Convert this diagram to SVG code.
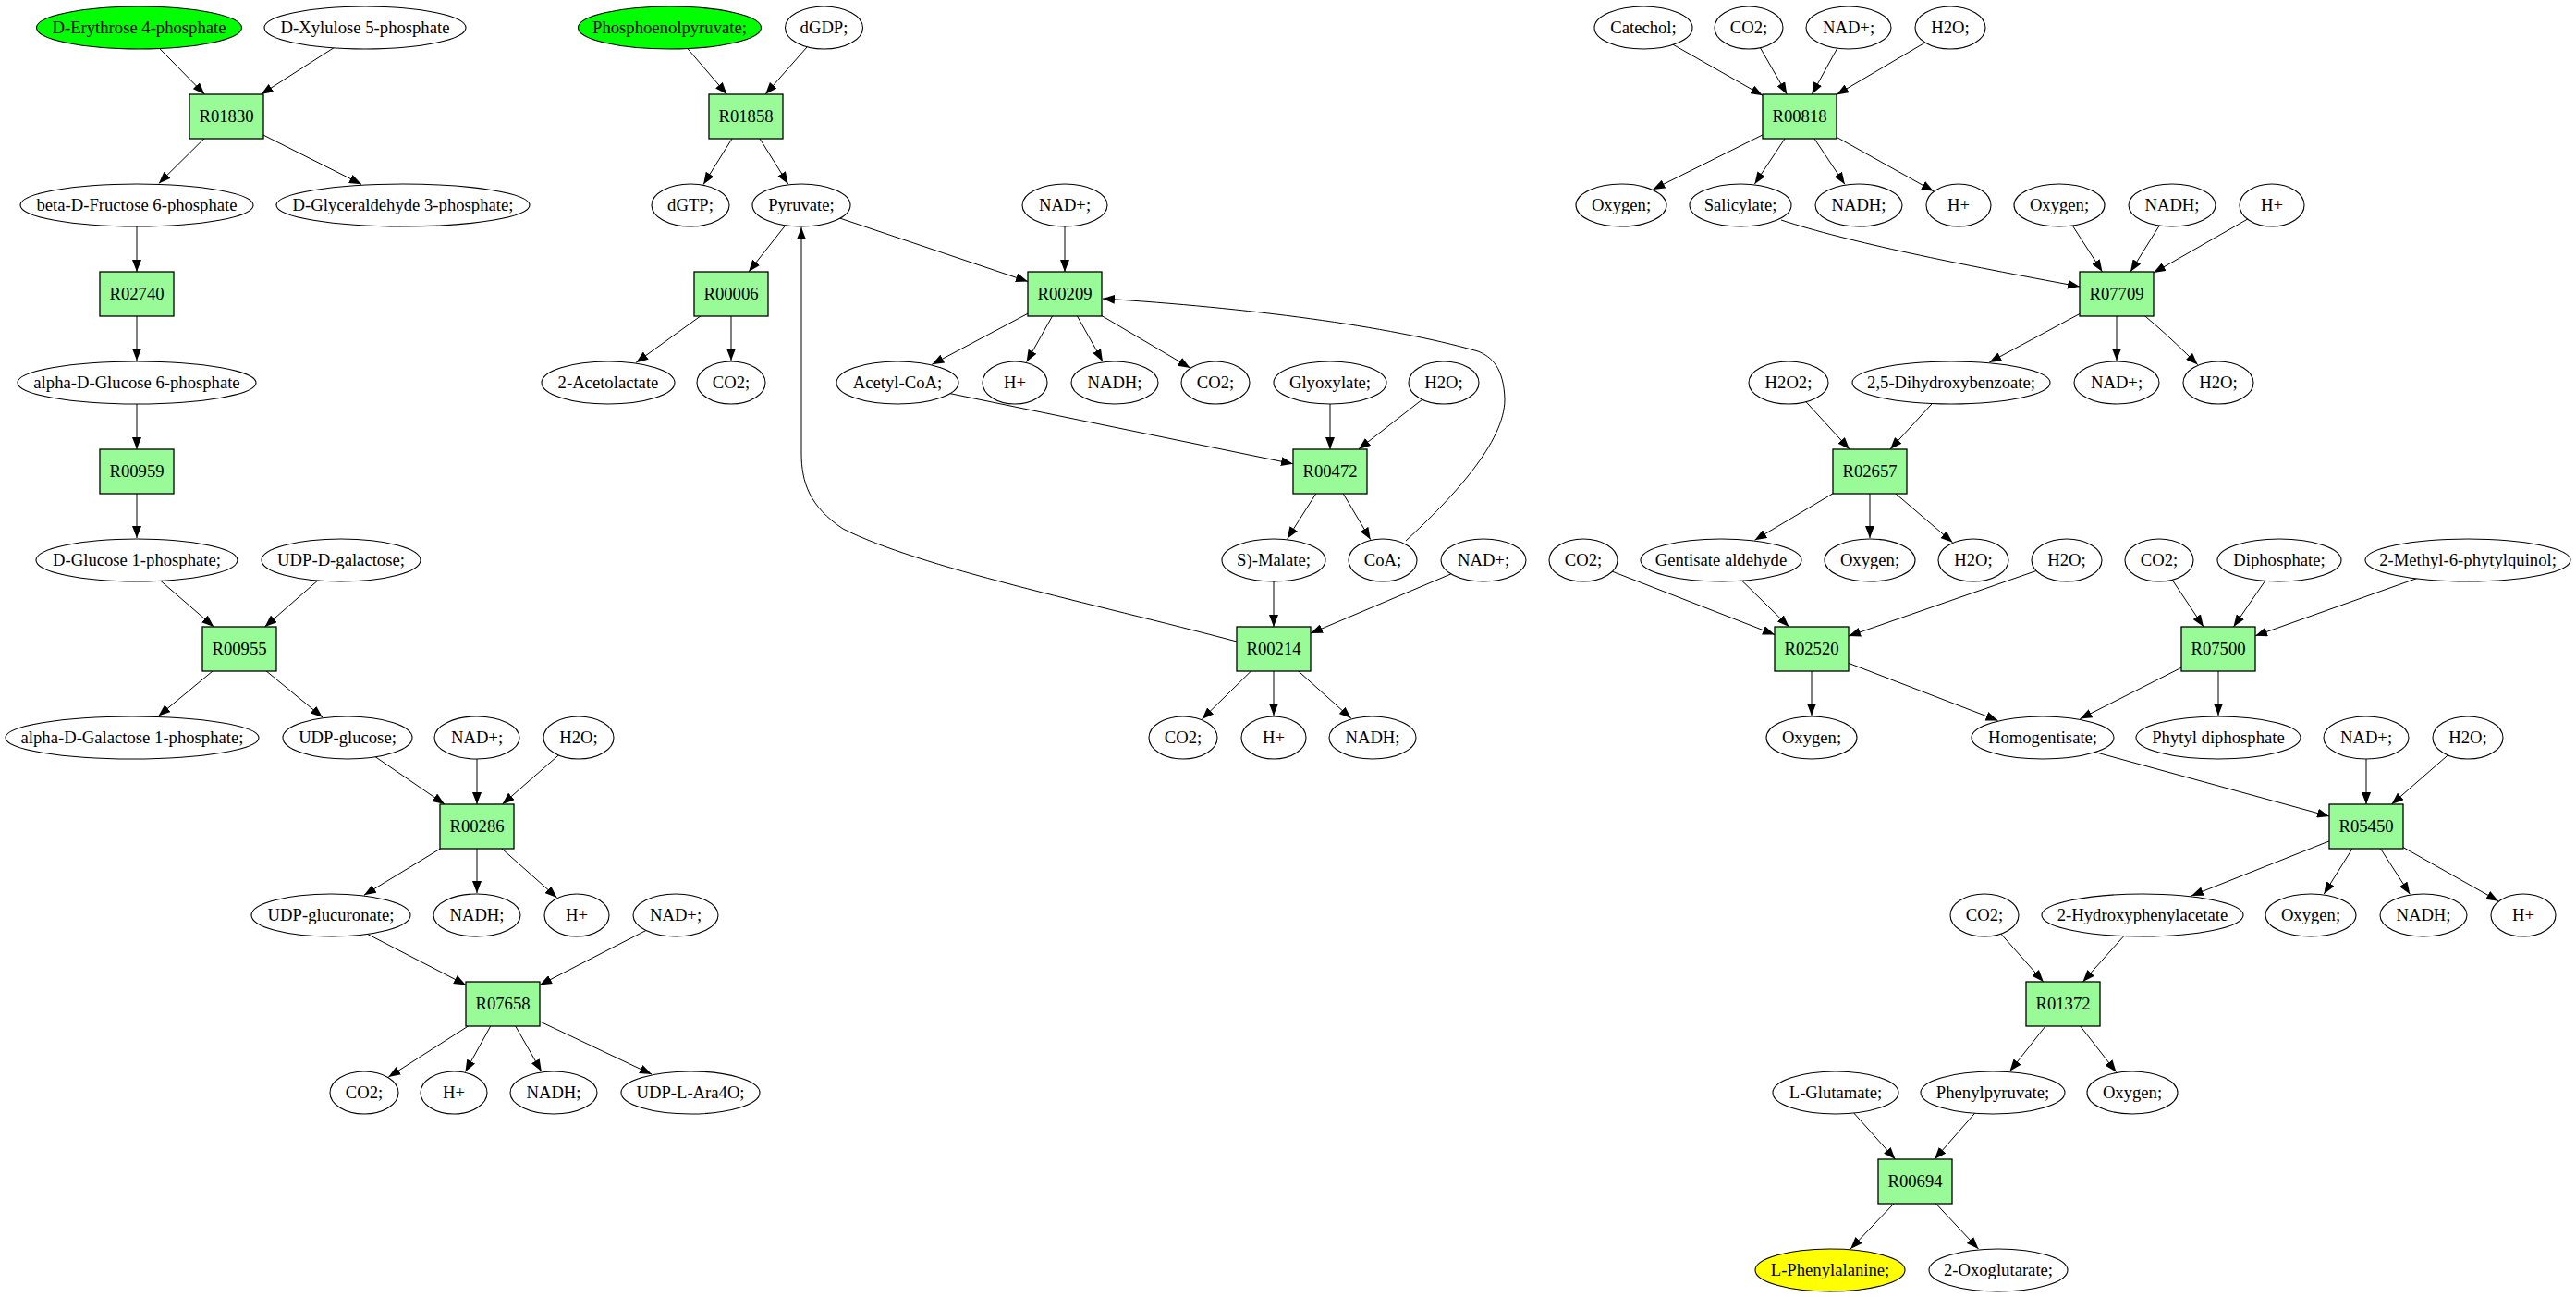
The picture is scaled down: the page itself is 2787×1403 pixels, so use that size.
<svg xmlns="http://www.w3.org/2000/svg" width="2787" height="1403" viewBox="0 0 2787 1403">
<style>
text{font-family:"Liberation Serif","Times New Roman",serif;font-size:18.67px;text-anchor:middle;fill:#000}
.n ellipse{fill:#fff;stroke:#000;stroke-width:1.1}
.n rect{fill:#98fb98;stroke:#000;stroke-width:1.3}
.g ellipse{fill:#00ff00}
.y ellipse{fill:#ffff00}
#edges path{fill:none;stroke:#000;stroke-width:1;marker-end:url(#ah)}
</style>
<defs>
<marker id="ah" viewBox="0 0 13 10" refX="13" refY="5" markerWidth="13" markerHeight="10" markerUnits="userSpaceOnUse" orient="auto"><path d="M0,0 L13,5 L0,10 z" fill="#000"/></marker>
</defs>
<rect width="2787" height="1403" fill="#fff"/>
<g id="edges">
<path d="M150.5,30 L221.4,102"/>
<path d="M395,30 L282.5,102"/>
<path d="M245,126 L171.8,198.4"/>
<path d="M245,126 L390.9,199.3"/>
<path d="M148,222 L148,294"/>
<path d="M148,318 L148,390"/>
<path d="M148,414 L148,486"/>
<path d="M148,510 L148,582"/>
<path d="M148,606 L231.3,678"/>
<path d="M369,606 L286.5,678"/>
<path d="M259,702 L171.4,774.5"/>
<path d="M259,702 L349,775.9"/>
<path d="M376,798 L481,870"/>
<path d="M516,798 L516,870"/>
<path d="M626,798 L543.5,870"/>
<path d="M516,894 L393.9,968.2"/>
<path d="M516,894 L516,966"/>
<path d="M516,894 L602.6,971"/>
<path d="M358,990 L504,1065.4"/>
<path d="M731,990 L584,1065.5"/>
<path d="M544,1086 L420.3,1165.1"/>
<path d="M544,1086 L503.4,1159.5"/>
<path d="M544,1086 L585.8,1159"/>
<path d="M544,1086 L705,1162.1"/>
<path d="M724.5,30 L786.4,102"/>
<path d="M891.5,30 L828.1,102"/>
<path d="M807,126 L761.1,199.4"/>
<path d="M807,126 L852.6,198.9"/>
<path d="M867,222 L810,294"/>
<path d="M867,222 L1112,304.5"/>
<path d="M1152,222 L1152,294"/>
<path d="M791,318 L688.2,392.2"/>
<path d="M791,318 L791,390"/>
<path d="M1152,318 L1008.3,394.2"/>
<path d="M1152,318 L1110.6,391.6"/>
<path d="M1152,318 L1193,390.9"/>
<path d="M1152,318 L1287.6,397.9"/>
<path d="M971,414 L1399,501.8"/>
<path d="M1439,414 L1439,486"/>
<path d="M1562,414 L1469.8,486"/>
<path d="M1439,510 L1392.7,582.8"/>
<path d="M1439,510 L1482.7,583.6"/>
<path d="M1378,606 L1378,678"/>
<path d="M1605,606 L1418,685.1"/>
<path d="M1378,702 L1300.4,778"/>
<path d="M1378,702 L1378,774"/>
<path d="M1378,702 L1461.8,777.1"/>
<path d="M1338,694 C1180,652 995,614 912,572 C876,548 867,522 867,490 L867,246"/>
<path d="M1521,585 C1572,538 1628,478 1628,432 C1627,398 1614,386 1599,380 C1500,352 1350,333 1193,323"/>
<path d="M1778,30 L1907,103.3"/>
<path d="M1892,30 L1933.3,102"/>
<path d="M2000,30 L1960.3,102"/>
<path d="M2110,30 L1987,102.4"/>
<path d="M1947,126 L1788.4,204.9"/>
<path d="M1947,126 L1898.4,199"/>
<path d="M1947,126 L1995.9,199.3"/>
<path d="M1947,126 L2091.9,206.8"/>
<path d="M1927,238 C2000,262 2120,286 2250,310"/>
<path d="M2228,222 L2274.5,294"/>
<path d="M2350,222 L2305,294"/>
<path d="M2458,222 L2330,295.1"/>
<path d="M2290,318 L2152.3,391.9"/>
<path d="M2290,318 L2290,390"/>
<path d="M2290,318 C2320,340 2345,362 2377.7,394.6"/>
<path d="M1935,414 L2001,486"/>
<path d="M2111,414 L2045,486"/>
<path d="M2023,510 L1898.5,584.2"/>
<path d="M2023,510 L2023,582"/>
<path d="M2023,510 L2112.5,586.7"/>
<path d="M1713,606 L1920,686.5"/>
<path d="M1862,606 L1935.5,678"/>
<path d="M2236,606 L2000,688.1"/>
<path d="M1960,702 L1960,774"/>
<path d="M1960,702 L2161.5,779.4"/>
<path d="M2336,606 L2384,678"/>
<path d="M2466,606 L2416.5,678"/>
<path d="M2670,606 L2440,687.8"/>
<path d="M2400,702 L2250.4,777.6"/>
<path d="M2400,702 L2400,774"/>
<path d="M2210,798 L2520,883"/>
<path d="M2560,798 L2560,870"/>
<path d="M2670,798 L2587.5,870"/>
<path d="M2560,894 L2370.9,969"/>
<path d="M2560,894 L2514.3,967"/>
<path d="M2560,894 L2607.3,967.2"/>
<path d="M2560,894 L2703,974.7"/>
<path d="M2147,990 L2210.8,1062"/>
<path d="M2318,990 L2253.5,1062"/>
<path d="M2232,1086 L2174.5,1158.7"/>
<path d="M2232,1086 L2289.5,1159.6"/>
<path d="M1986,1182 L2050.5,1254"/>
<path d="M2156,1182 L2093,1254"/>
<path d="M2072,1278 L2002.1,1350.9"/>
<path d="M2072,1278 L2140.4,1350.9"/>
</g>
<g id="n_e4p" class="n g"><ellipse cx="150.5" cy="30" rx="111" ry="23"/><text x="150.5" y="36">D-Erythrose 4-phosphate</text></g>
<g id="n_x5p" class="n"><ellipse cx="395" cy="30" rx="109" ry="23"/><text x="395" y="36">D-Xylulose 5-phosphate</text></g>
<g id="R01830" class="n"><rect x="205" y="102" width="80" height="48"/><text x="245" y="132">R01830</text></g>
<g id="n_f6p" class="n"><ellipse cx="148" cy="222" rx="126" ry="23"/><text x="148" y="228">beta-D-Fructose 6-phosphate</text></g>
<g id="n_g3p" class="n"><ellipse cx="436" cy="222" rx="137" ry="23"/><text x="436" y="228">D-Glyceraldehyde 3-phosphate;</text></g>
<g id="R02740" class="n"><rect x="108" y="294" width="80" height="48"/><text x="148" y="324">R02740</text></g>
<g id="n_g6p" class="n"><ellipse cx="148" cy="414" rx="129" ry="23"/><text x="148" y="420">alpha-D-Glucose 6-phosphate</text></g>
<g id="R00959" class="n"><rect x="108" y="486" width="80" height="48"/><text x="148" y="516">R00959</text></g>
<g id="n_g1p" class="n"><ellipse cx="148" cy="606" rx="109" ry="23"/><text x="148" y="612">D-Glucose 1-phosphate;</text></g>
<g id="n_udpgal" class="n"><ellipse cx="369" cy="606" rx="86" ry="23"/><text x="369" y="612">UDP-D-galactose;</text></g>
<g id="R00955" class="n"><rect x="219" y="678" width="80" height="48"/><text x="259" y="708">R00955</text></g>
<g id="n_gal1p" class="n"><ellipse cx="143" cy="798" rx="137" ry="23"/><text x="143" y="804">alpha-D-Galactose 1-phosphate;</text></g>
<g id="n_udpglc" class="n"><ellipse cx="376" cy="798" rx="70" ry="23"/><text x="376" y="804">UDP-glucose;</text></g>
<g id="n_nad1" class="n"><ellipse cx="516" cy="798" rx="46" ry="23"/><text x="516" y="804">NAD+;</text></g>
<g id="n_h2o1" class="n"><ellipse cx="626" cy="798" rx="38" ry="23"/><text x="626" y="804">H2O;</text></g>
<g id="R00286" class="n"><rect x="476" y="870" width="80" height="48"/><text x="516" y="900">R00286</text></g>
<g id="n_udpglca" class="n"><ellipse cx="358" cy="990" rx="86" ry="23"/><text x="358" y="996">UDP-glucuronate;</text></g>
<g id="n_nadh1" class="n"><ellipse cx="516" cy="990" rx="47" ry="23"/><text x="516" y="996">NADH;</text></g>
<g id="n_h1" class="n"><ellipse cx="624" cy="990" rx="35" ry="23"/><text x="624" y="996">H+</text></g>
<g id="n_nad2" class="n"><ellipse cx="731" cy="990" rx="46" ry="23"/><text x="731" y="996">NAD+;</text></g>
<g id="R07658" class="n"><rect x="504" y="1062" width="80" height="48"/><text x="544" y="1092">R07658</text></g>
<g id="n_co2_1" class="n"><ellipse cx="394" cy="1182" rx="37" ry="23"/><text x="394" y="1188">CO2;</text></g>
<g id="n_h2" class="n"><ellipse cx="491" cy="1182" rx="36" ry="23"/><text x="491" y="1188">H+</text></g>
<g id="n_nadh2" class="n"><ellipse cx="599" cy="1182" rx="47" ry="23"/><text x="599" y="1188">NADH;</text></g>
<g id="n_ara" class="n"><ellipse cx="747" cy="1182" rx="75" ry="23"/><text x="747" y="1188">UDP-L-Ara4O;</text></g>
<g id="n_pep" class="n g"><ellipse cx="724.5" cy="30" rx="99" ry="23"/><text x="724.5" y="36">Phosphoenolpyruvate;</text></g>
<g id="n_dgdp" class="n"><ellipse cx="891.5" cy="30" rx="42" ry="23"/><text x="891.5" y="36">dGDP;</text></g>
<g id="R01858" class="n"><rect x="767" y="102" width="80" height="48"/><text x="807" y="132">R01858</text></g>
<g id="n_dgtp" class="n"><ellipse cx="747" cy="222" rx="42" ry="23"/><text x="747" y="228">dGTP;</text></g>
<g id="n_pyr" class="n"><ellipse cx="867" cy="222" rx="53" ry="23"/><text x="867" y="228">Pyruvate;</text></g>
<g id="n_nad3" class="n"><ellipse cx="1152" cy="222" rx="46" ry="23"/><text x="1152" y="228">NAD+;</text></g>
<g id="R00006" class="n"><rect x="751" y="294" width="80" height="48"/><text x="791" y="324">R00006</text></g>
<g id="R00209" class="n"><rect x="1112" y="294" width="80" height="48"/><text x="1152" y="324">R00209</text></g>
<g id="n_acl" class="n"><ellipse cx="658" cy="414" rx="72" ry="23"/><text x="658" y="420">2-Acetolactate</text></g>
<g id="n_co2_2" class="n"><ellipse cx="791" cy="414" rx="37" ry="23"/><text x="791" y="420">CO2;</text></g>
<g id="n_accoa" class="n"><ellipse cx="971" cy="414" rx="66" ry="23"/><text x="971" y="420">Acetyl-CoA;</text></g>
<g id="n_h3" class="n"><ellipse cx="1098" cy="414" rx="35" ry="23"/><text x="1098" y="420">H+</text></g>
<g id="n_nadh3" class="n"><ellipse cx="1206" cy="414" rx="47" ry="23"/><text x="1206" y="420">NADH;</text></g>
<g id="n_co2_3" class="n"><ellipse cx="1315" cy="414" rx="37" ry="23"/><text x="1315" y="420">CO2;</text></g>
<g id="n_glx" class="n"><ellipse cx="1439" cy="414" rx="61" ry="23"/><text x="1439" y="420">Glyoxylate;</text></g>
<g id="n_h2o2" class="n"><ellipse cx="1562" cy="414" rx="38" ry="23"/><text x="1562" y="420">H2O;</text></g>
<g id="R00472" class="n"><rect x="1399" y="486" width="80" height="48"/><text x="1439" y="516">R00472</text></g>
<g id="n_mal" class="n"><ellipse cx="1378" cy="606" rx="56" ry="23"/><text x="1378" y="612">S)-Malate;</text></g>
<g id="n_coa" class="n"><ellipse cx="1496" cy="606" rx="37" ry="23"/><text x="1496" y="612">CoA;</text></g>
<g id="n_nad4" class="n"><ellipse cx="1605" cy="606" rx="46" ry="23"/><text x="1605" y="612">NAD+;</text></g>
<g id="R00214" class="n"><rect x="1338" y="678" width="80" height="48"/><text x="1378" y="708">R00214</text></g>
<g id="n_co2_4" class="n"><ellipse cx="1280" cy="798" rx="37" ry="23"/><text x="1280" y="804">CO2;</text></g>
<g id="n_h4" class="n"><ellipse cx="1378" cy="798" rx="35" ry="23"/><text x="1378" y="804">H+</text></g>
<g id="n_nadh4" class="n"><ellipse cx="1485" cy="798" rx="47" ry="23"/><text x="1485" y="804">NADH;</text></g>
<g id="n_cat" class="n"><ellipse cx="1778" cy="30" rx="53" ry="23"/><text x="1778" y="36">Catechol;</text></g>
<g id="n_co2_5" class="n"><ellipse cx="1892" cy="30" rx="37" ry="23"/><text x="1892" y="36">CO2;</text></g>
<g id="n_nad5" class="n"><ellipse cx="2000" cy="30" rx="46" ry="23"/><text x="2000" y="36">NAD+;</text></g>
<g id="n_h2o3" class="n"><ellipse cx="2110" cy="30" rx="38" ry="23"/><text x="2110" y="36">H2O;</text></g>
<g id="R00818" class="n"><rect x="1907" y="102" width="80" height="48"/><text x="1947" y="132">R00818</text></g>
<g id="n_o1" class="n"><ellipse cx="1754" cy="222" rx="49" ry="23"/><text x="1754" y="228">Oxygen;</text></g>
<g id="n_sal" class="n"><ellipse cx="1883" cy="222" rx="55" ry="23"/><text x="1883" y="228">Salicylate;</text></g>
<g id="n_nadh5" class="n"><ellipse cx="2011" cy="222" rx="47" ry="23"/><text x="2011" y="228">NADH;</text></g>
<g id="n_h5" class="n"><ellipse cx="2119" cy="222" rx="35" ry="23"/><text x="2119" y="228">H+</text></g>
<g id="n_o2" class="n"><ellipse cx="2228" cy="222" rx="49" ry="23"/><text x="2228" y="228">Oxygen;</text></g>
<g id="n_nadh6" class="n"><ellipse cx="2350" cy="222" rx="47" ry="23"/><text x="2350" y="228">NADH;</text></g>
<g id="n_h6" class="n"><ellipse cx="2458" cy="222" rx="35" ry="23"/><text x="2458" y="228">H+</text></g>
<g id="R07709" class="n"><rect x="2250" y="294" width="80" height="48"/><text x="2290" y="324">R07709</text></g>
<g id="n_h2o2x" class="n"><ellipse cx="1935" cy="414" rx="43" ry="23"/><text x="1935" y="420">H2O2;</text></g>
<g id="n_dhb" class="n"><ellipse cx="2111" cy="414" rx="107" ry="23"/><text x="2111" y="420">2,5-Dihydroxybenzoate;</text></g>
<g id="n_nad6" class="n"><ellipse cx="2290" cy="414" rx="46" ry="23"/><text x="2290" y="420">NAD+;</text></g>
<g id="n_h2o4" class="n"><ellipse cx="2400" cy="414" rx="38" ry="23"/><text x="2400" y="420">H2O;</text></g>
<g id="R02657" class="n"><rect x="1983" y="486" width="80" height="48"/><text x="2023" y="516">R02657</text></g>
<g id="n_co2_6" class="n"><ellipse cx="1713" cy="606" rx="37" ry="23"/><text x="1713" y="612">CO2;</text></g>
<g id="n_gald" class="n"><ellipse cx="1862" cy="606" rx="87" ry="23"/><text x="1862" y="612">Gentisate aldehyde</text></g>
<g id="n_o3" class="n"><ellipse cx="2023" cy="606" rx="49" ry="23"/><text x="2023" y="612">Oxygen;</text></g>
<g id="n_h2o5" class="n"><ellipse cx="2135" cy="606" rx="38" ry="23"/><text x="2135" y="612">H2O;</text></g>
<g id="n_h2o6" class="n"><ellipse cx="2236" cy="606" rx="38" ry="23"/><text x="2236" y="612">H2O;</text></g>
<g id="n_co2_7" class="n"><ellipse cx="2336" cy="606" rx="37" ry="23"/><text x="2336" y="612">CO2;</text></g>
<g id="n_ppi" class="n"><ellipse cx="2466" cy="606" rx="67" ry="23"/><text x="2466" y="612">Diphosphate;</text></g>
<g id="n_mpq" class="n"><ellipse cx="2670" cy="606" rx="111" ry="23"/><text x="2670" y="612">2-Methyl-6-phytylquinol;</text></g>
<g id="R02520" class="n"><rect x="1920" y="678" width="80" height="48"/><text x="1960" y="708">R02520</text></g>
<g id="R07500" class="n"><rect x="2360" y="678" width="80" height="48"/><text x="2400" y="708">R07500</text></g>
<g id="n_o4" class="n"><ellipse cx="1960" cy="798" rx="49" ry="23"/><text x="1960" y="804">Oxygen;</text></g>
<g id="n_hga" class="n"><ellipse cx="2210" cy="798" rx="77" ry="23"/><text x="2210" y="804">Homogentisate;</text></g>
<g id="n_phpp" class="n"><ellipse cx="2400" cy="798" rx="89" ry="23"/><text x="2400" y="804">Phytyl diphosphate</text></g>
<g id="n_nad7" class="n"><ellipse cx="2560" cy="798" rx="46" ry="23"/><text x="2560" y="804">NAD+;</text></g>
<g id="n_h2o7" class="n"><ellipse cx="2670" cy="798" rx="38" ry="23"/><text x="2670" y="804">H2O;</text></g>
<g id="R05450" class="n"><rect x="2520" y="870" width="80" height="48"/><text x="2560" y="900">R05450</text></g>
<g id="n_co2_8" class="n"><ellipse cx="2147" cy="990" rx="37" ry="23"/><text x="2147" y="996">CO2;</text></g>
<g id="n_hpa" class="n"><ellipse cx="2318" cy="990" rx="109" ry="23"/><text x="2318" y="996">2-Hydroxyphenylacetate</text></g>
<g id="n_o5" class="n"><ellipse cx="2500" cy="990" rx="49" ry="23"/><text x="2500" y="996">Oxygen;</text></g>
<g id="n_nadh7" class="n"><ellipse cx="2622" cy="990" rx="47" ry="23"/><text x="2622" y="996">NADH;</text></g>
<g id="n_h7" class="n"><ellipse cx="2730" cy="990" rx="35" ry="23"/><text x="2730" y="996">H+</text></g>
<g id="R01372" class="n"><rect x="2192" y="1062" width="80" height="48"/><text x="2232" y="1092">R01372</text></g>
<g id="n_glu" class="n"><ellipse cx="1986" cy="1182" rx="68" ry="23"/><text x="1986" y="1188">L-Glutamate;</text></g>
<g id="n_phpyr" class="n"><ellipse cx="2156" cy="1182" rx="78" ry="23"/><text x="2156" y="1188">Phenylpyruvate;</text></g>
<g id="n_o6" class="n"><ellipse cx="2307" cy="1182" rx="49" ry="23"/><text x="2307" y="1188">Oxygen;</text></g>
<g id="R00694" class="n"><rect x="2032" y="1254" width="80" height="48"/><text x="2072" y="1284">R00694</text></g>
<g id="n_phe" class="n y"><ellipse cx="1980" cy="1374" rx="81" ry="23"/><text x="1980" y="1380">L-Phenylalanine;</text></g>
<g id="n_oxo" class="n"><ellipse cx="2162" cy="1374" rx="75" ry="23"/><text x="2162" y="1380">2-Oxoglutarate;</text></g>
</svg>
